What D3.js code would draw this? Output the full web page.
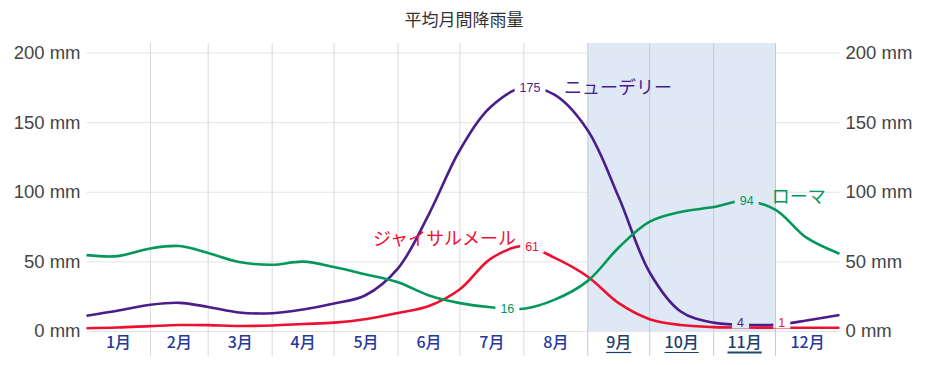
<!DOCTYPE html>
<html><head><meta charset="utf-8">
<script src="https://cdn.jsdelivr.net/npm/d3@7"></script>
<style>
body{margin:0;background:#fff;}
svg{display:block;font-family:"Liberation Sans",Arial,Helvetica,sans-serif;}
.jp{font-family:"Noto Sans CJK JP","Noto Sans",sans-serif;}
</style></head>
<body>
<svg id="chart" width="930" height="365"></svg>
<script>
const title = "平均月間降雨量";
const months = ["1月","2月","3月","4月","5月","6月","7月","8月","9月","10月","11月","12月"];
const linkMonths = ["9月","10月","11月"];
const yTicks = [0,50,100,150,200];
const highlight = ["2023-09-01","2023-12-01"];

const sampleDates = ["2023-01-01","2023-01-16","2023-02-01","2023-02-15","2023-03-01","2023-03-16",
  "2023-04-01","2023-04-16","2023-05-01","2023-05-16","2023-06-01","2023-06-16",
  "2023-07-01","2023-07-16","2023-08-01","2023-08-16","2023-09-01","2023-09-16",
  "2023-10-01","2023-10-16","2023-11-01","2023-11-16","2023-12-01","2023-12-16","2024-01-01"];

const seriesNames = ["ニューデリー","ジャイサルメール","ローマ"];
const newDelhi   = [11,14.5,18.8,20.2,17.3,13.3,12.8,15.5,19.8,25.5,45,84,130,161,175,169.5,144,96,42,14,6,4.5,4.5,7.5,11.5];
const jaisalmer  = [2,2.5,3.5,4.3,4.2,3.6,4,5,6,8.5,13,18,30,52,61,52.5,39,20,8.5,4.3,2.8,2.5,2.4,2.3,2.3];
const rome       = [54.5,53.8,59.3,61,56,49.5,47.6,49.8,46,40.8,35,25.5,20,17,16,22.5,36,60,78.5,85.5,89,93.5,87,67,55.5];
const seriesColors = ["#4b1d8c","#ee1030","#04975a"];

// value annotations (extremes) : date, value
const newDelhiMarks  = [["2023-08-04",175],["2023-11-14",4]];
const jaisalmerMarks = [["2023-08-05",61],["2023-12-04",1]];
const romeMarks      = [["2023-07-24",16],["2023-11-17",94]];

const parse = d3.timeParse("%Y-%m-%d");
const svg = d3.select("#chart");
const L = 86.5, R = 839.5, T = 52.5, B = 331;

const x = d3.scaleTime().domain([parse("2023-01-01"), parse("2024-01-01")]).range([L, R]);
const y = d3.scaleLinear().domain([0,200]).range([B, T]);

const defs = svg.append("defs");
const mask = defs.append("mask").attr("id", "gap").attr("maskUnits", "userSpaceOnUse")
  .attr("x", 0).attr("y", 0).attr("width", 930).attr("height", 365);
mask.append("rect").attr("width", 930).attr("height", 365).attr("fill", "#fff");

// highlight band
svg.append("rect")
  .attr("x", x(parse(highlight[0]))).attr("y", 43)
  .attr("width", x(parse(highlight[1])) - x(parse(highlight[0])))
  .attr("height", B - 43).attr("fill", "#dfe9f5");

// horizontal grid
svg.append("g").attr("transform", `translate(${L},0)`)
  .call(d3.axisLeft(y).tickValues(yTicks).tickSize(-(R - L)).tickFormat(""))
  .call(g => g.select(".domain").remove())
  .call(g => g.selectAll("line").attr("stroke", "#e4e4e4").attr("stroke-width", 1));

// vertical grid at month starts
const monthStarts = d3.range(1, 12).map(i => new Date(2023, i, 1));
svg.append("g").selectAll("line").data(monthStarts).join("line")
  .attr("x1", d => x(d)).attr("x2", d => x(d))
  .attr("y1", 43).attr("y2", 356)
  .attr("stroke", d => (d >= parse(highlight[0]) && d <= parse(highlight[1])) ? "#c3cad3" : "#dadada")
  .attr("stroke-width", 1);

// axes labels
const fmt = d => d + " mm";
svg.append("g").attr("transform", `translate(${L},0)`)
  .call(d3.axisLeft(y).tickValues(yTicks).tickSize(0).tickPadding(6).tickFormat(fmt))
  .call(g => g.select(".domain").remove())
  .call(g => g.selectAll("text").attr("font-size", 18.5).attr("fill", "#444")
     .attr("font-family", "'Liberation Sans',Arial,sans-serif"));
svg.append("g").attr("transform", `translate(${R},0)`)
  .call(d3.axisRight(y).tickValues(yTicks).tickSize(0).tickPadding(6).tickFormat(fmt))
  .call(g => g.select(".domain").remove())
  .call(g => g.selectAll("text").attr("font-size", 18.5).attr("fill", "#444")
     .attr("font-family", "'Liberation Sans',Arial,sans-serif"));

// month labels
const mg = svg.append("g");
months.forEach((m, i) => {
  const mid = new Date((new Date(2023, i, 1).getTime() + new Date(2023, i + 1, 1).getTime()) / 2);
  const isLink = linkMonths.includes(m);
  const t = mg.append("text").attr("class", "jp")
    .attr("x", x(mid)).attr("y", 348).attr("text-anchor", "middle")
    .attr("font-size", 16).attr("font-weight", 500)
    .attr("fill", isLink ? "#1d3f68" : "#24399a").text(m);
  if (isLink) {
    const w = t.node().getComputedTextLength();
    mg.append("line").attr("x1", x(mid) - w/2).attr("x2", x(mid) + w/2)
      .attr("y1", 352.5).attr("y2", 352.5)
      .attr("stroke", m === "11月" ? "#1b4a6e" : "#1d3f68")
      .attr("stroke-width", m === "11月" ? 2.2 : 1.2);
  }
});

// lines
const allSeries = [newDelhi, jaisalmer, rome];
const line = d3.line().x((d, i) => x(parse(sampleDates[i]))).y(d => y(d)).curve(d3.curveCatmullRom.alpha(0.5));
const lineG = svg.append("g").attr("mask", "url(#gap)");
allSeries.forEach((s, k) => {
  lineG.append("path").datum(s).attr("d", line)
    .attr("fill", "none").attr("stroke", seriesColors[k]).attr("stroke-width", 2.6)
    .attr("stroke-linejoin", "round");
});

// value labels
const marks = [newDelhiMarks, jaisalmerMarks, romeMarks];
const labelLayer = svg.append("g");
const labelPos = [];
marks.forEach((ms, k) => {
  ms.forEach(([dt, v]) => {
    const px = x(parse(dt));
    const py = Math.min(y(v), B - 9);
    const t = labelLayer.append("text").attr("x", px).attr("y", py).attr("dy", "0.36em")
      .attr("text-anchor", "middle").attr("font-size", 12.5).attr("fill", seriesColors[k]).text(v);
    const bb = t.node().getBBox();
    mask.append("rect").attr("x", bb.x - 5).attr("y", bb.y + 1).attr("width", bb.width + 10)
      .attr("height", bb.height - 2).attr("fill", "#000");
    labelPos.push({k, v, px, py});
  });
});

// series name labels
const nameG = svg.append("g");
const pk = (k, v) => labelPos.find(p => p.k === k && p.v === v);
let p = pk(0, 175);
nameG.append("text").attr("class", "jp").attr("x", p.px + 34).attr("y", p.py).attr("dy", "0.36em")
  .attr("font-size", 18).attr("fill", seriesColors[0]).text(seriesNames[0]);
p = pk(1, 61);
nameG.append("text").attr("class", "jp").attr("x", p.px - 16).attr("y", p.py - 8).attr("dy", "0.36em")
  .attr("text-anchor", "end").attr("font-size", 18).attr("fill", seriesColors[1]).text(seriesNames[1]);
p = pk(2, 94);
nameG.append("text").attr("class", "jp").attr("x", p.px + 25).attr("y", p.py - 4).attr("dy", "0.36em")
  .attr("font-size", 18).attr("fill", seriesColors[2]).text(seriesNames[2]);

// title
svg.append("text").attr("class", "jp").attr("x", 464).attr("y", 26).attr("text-anchor", "middle")
  .attr("font-size", 17).attr("fill", "#333").text(title);
</script>
</body></html>
